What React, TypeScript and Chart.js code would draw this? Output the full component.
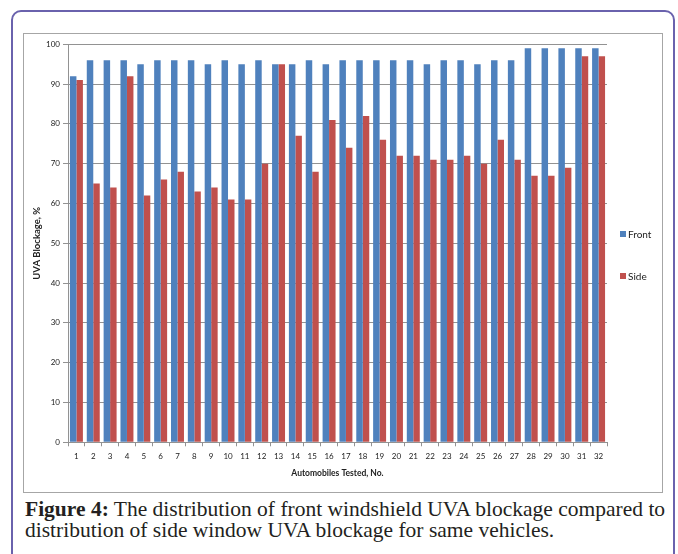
import React, { useEffect, useRef } from "react";
import { Chart, registerables } from "chart.js";

Chart.register(...registerables);

const categories = ["1","2","3","4","5","6","7","8","9","10","11","12","13","14","15","16","17","18","19","20","21","22","23","24","25","26","27","28","29","30","31","32"];
const frontValues = [92,96,96,96,95,96,96,96,95,96,95,96,95,95,96,95,96,96,96,96,96,95,96,96,95,96,96,99,99,99,99,99];
const sideValues = [91,65,64,92,62,66,68,63,64,61,61,70,95,77,68,81,74,82,76,72,72,71,71,72,70,76,71,67,67,69,97,97];
const seriesNames = ["Front", "Side"];
const seriesColors = ["#4f81bd", "#c0504d"];
const yTitle = "UVA Blockage, %";
const xTitle = "Automobiles Tested, No.";

const FONT = "Lato, 'Liberation Sans', sans-serif";
const gridColor = "#929292";

const sideLegend = {
  id: "sideLegend",
  afterDraw(chart: any) {
    const { ctx, chartArea } = chart;
    const cy = (chartArea.top + chartArea.bottom) / 2;
    ctx.save();
    ctx.font = `10px ${FONT}`;
    ctx.textBaseline = "middle";
    ctx.textAlign = "left";
    chart.data.datasets.forEach((ds: any, i: number) => {
      const y = cy + 11.7 + (i - 0.5) * 42;
      const bx = chartArea.right + 13;
      ctx.fillStyle = ds.backgroundColor;
      ctx.fillRect(bx, y - 3, 6, 6);
      ctx.fillStyle = "#222";
      ctx.fillText(ds.label, bx + 8, y + 0.5);
    });
    ctx.restore();
  },
};

export default function App() {
  const ref = useRef<HTMLCanvasElement | null>(null);

  useEffect(() => {
    if (!ref.current) return;
    const chart = new Chart(ref.current, {
      type: "bar",
      data: {
        labels: categories,
        datasets: [
          { label: seriesNames[0], data: frontValues, backgroundColor: seriesColors[0], borderWidth: 0 },
          { label: seriesNames[1], data: sideValues, backgroundColor: seriesColors[1], borderWidth: 0 },
        ],
      },
      options: {
        animation: false,
        responsive: false,
        maintainAspectRatio: false,
        layout: { padding: { top: 10.3, right: 55, bottom: 0, left: 0 } },
        datasets: { bar: { categoryPercentage: 0.77, barPercentage: 1 } },
        plugins: { legend: { display: false }, tooltip: { enabled: false } },
        scales: {
          x: {
            grid: { display: true, drawOnChartArea: false, offset: true, color: gridColor, tickLength: 4 },
            border: { color: gridColor },
            ticks: { font: { family: FONT, size: 8 }, color: "#222", padding: 5, maxRotation: 0, autoSkip: false },
            title: { display: true, text: xTitle, color: "#222", font: { family: FONT, size: 8.5, weight: "bold" }, padding: { top: 0, bottom: 14 } },
            afterFit: (s: any) => { s.height = 49.7; },
          },
          y: {
            min: 0,
            max: 100,
            ticks: { stepSize: 10, font: { family: FONT, size: 8 }, color: "#222", padding: 3 },
            grid: { color: gridColor, tickLength: 5 },
            border: { color: gridColor },
            title: { display: true, text: yTitle, color: "#222", font: { family: FONT, size: 9.5, weight: "bold" }, padding: { top: 7.5, bottom: 0 } },
            afterFit: (s: any) => { s.width = 44; },
          },
        },
      },
      plugins: [sideLegend],
    } as any);
    return () => chart.destroy();
  }, []);

  return (
    <div style={{ position: "fixed", left: 0, top: 0, width: 678, height: 554, overflow: "hidden", background: "#fff" }}>
      <div
        style={{
          position: "absolute",
          left: 11,
          top: 10,
          width: 664,
          height: 620,
          boxSizing: "border-box",
          border: "2px solid #6a62ad",
          borderRadius: 10,
        }}
      />
      <div
        style={{
          position: "absolute",
          left: 23,
          top: 33,
          width: 640,
          height: 460,
          boxSizing: "border-box",
          border: "1px solid #a6a6a6",
        }}
      >
        <canvas ref={ref} width={638} height={458} style={{ display: "block", width: 638, height: 458 }} />
      </div>
      <div
        style={{
          position: "absolute",
          left: 25,
          top: 499,
          fontFamily: "'Liberation Serif', 'Times New Roman', serif",
          fontSize: 21.5,
          lineHeight: "21px",
          color: "#231f20",
          whiteSpace: "nowrap",
        }}
      >
        <b>Figure 4:</b> The distribution of front windshield UVA blockage compared to
        <br />
        distribution of side window UVA blockage for same vehicles.
      </div>
    </div>
  );
}
